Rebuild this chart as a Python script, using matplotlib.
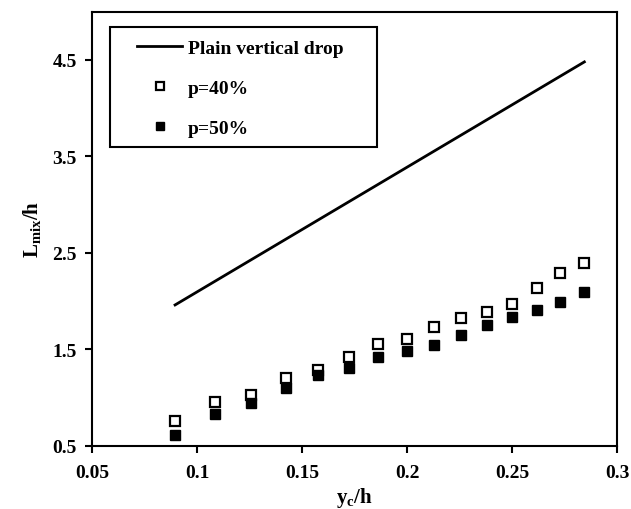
import matplotlib
matplotlib.use('Agg')
import matplotlib.pyplot as plt
from matplotlib.patches import Rectangle

plt.rcParams['font.family'] = 'Liberation Serif'
plt.rcParams['font.weight'] = 'bold'
plt.rcParams['mathtext.fontset'] = 'custom'
plt.rcParams['mathtext.rm'] = 'Liberation Serif:bold'
plt.rcParams['mathtext.bf'] = 'Liberation Serif:bold'
plt.rcParams['mathtext.it'] = 'Liberation Serif:bold'

# data
yc_h = [0.0895, 0.1083, 0.1257, 0.1422, 0.1575, 0.1722, 0.186, 0.1998,
        0.2129, 0.2256, 0.2379, 0.2498, 0.2617, 0.2729, 0.2844]
p40 = [0.76, 0.95, 1.03, 1.20, 1.29, 1.42, 1.55, 1.61,
       1.73, 1.82, 1.89, 1.97, 2.14, 2.29, 2.39]
p50 = [0.61, 0.83, 0.94, 1.10, 1.23, 1.31, 1.42, 1.48,
       1.54, 1.65, 1.75, 1.83, 1.91, 1.99, 2.09]
plain_x = [0.0895, 0.2844]
plain_y = [1.96, 4.48]

fig = plt.figure(figsize=(6.31, 5.10), dpi=100)
ax = fig.add_axes([0.146, 0.124, 0.832, 0.851])

ax.plot(plain_x, plain_y, color='black', linewidth=2, label='Plain vertical drop')
ax.plot(yc_h, p40, linestyle='none', marker='s', markersize=7.5,
        markerfacecolor='white', markeredgecolor='black', markeredgewidth=1.6,
        label='p=40%')
ax.plot(yc_h, p50, linestyle='none', marker='s', markersize=7.5,
        markerfacecolor='black', markeredgecolor='black', label='p=50%')

ax.set_xlim(0.05, 0.3)
ax.set_ylim(0.5, 5.0)
ax.set_xticks([0.05, 0.1, 0.15, 0.2, 0.25, 0.3])
ax.set_xticklabels(['0.05', '0.1', '0.15', '0.2', '0.25', '0.3'])
ax.set_yticks([0.5, 1.5, 2.5, 3.5, 4.5])
ax.tick_params(axis='both', direction='out', length=5, width=1.5, labelsize=14)
ax.tick_params(axis='x', pad=8)
ax.tick_params(axis='y', pad=6)
for lab in ax.get_xticklabels() + ax.get_yticklabels():
    lab.set_fontweight('bold')
for s in ax.spines.values():
    s.set_linewidth(1.5)

ax.set_xlabel(r'$\mathbf{y_c/h}$', fontsize=15, labelpad=3)
ax.set_ylabel(r'$\mathbf{L_{mix}/h}$', fontsize=15, labelpad=7)

# legend without its own frame; a plain box is drawn round it
leg = ax.legend(loc='upper left', bbox_to_anchor=(0.086, 0.936), borderaxespad=0,
                frameon=False, prop={'weight': 'bold', 'size': 14},
                markerscale=0.75, handlelength=2.3, labelspacing=1.15,
                borderpad=0, handletextpad=0.3)
ax.add_patch(Rectangle((0.0343, 0.689), 0.5086, 0.2765, transform=ax.transAxes,
                       facecolor='none', edgecolor='black', linewidth=1.5, zorder=5))

fig.savefig('out.png', dpi=100)
